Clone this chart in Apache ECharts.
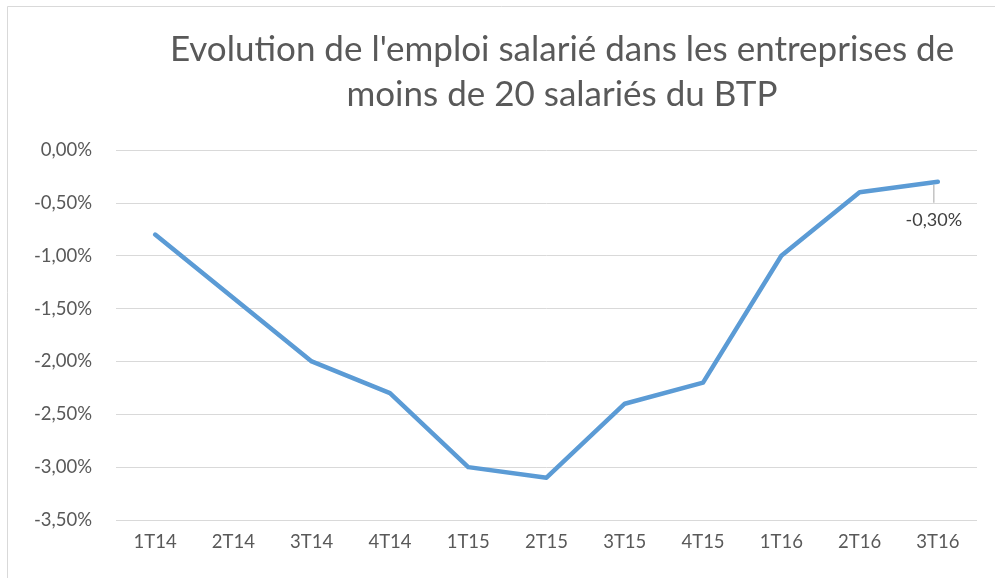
<!DOCTYPE html>
<html>
<head>
<meta charset="utf-8">
<script src="https://cdn.jsdelivr.net/npm/echarts@6/dist/echarts.min.js"></script>
<style>
  html, body { margin: 0; padding: 0; background: #fff; }
  #chart { width: 995px; height: 578px; }
</style>
</head>
<body>
<div id="chart"></div>
<script>
var fontFamily = 'Lato, "Open Sans", sans-serif';

var quarters = ['1T14', '2T14', '3T14', '4T14', '1T15', '2T15', '3T15', '4T15', '1T16', '2T16', '3T16'];
var emploi = [-0.8, -1.4, -2.0, -2.3, -3.0, -3.1, -2.4, -2.2, -1.0, -0.4, -0.3];
var titleLines = ["Evolution de l'emploi salarié dans les entreprises de", 'moins de 20 salariés du BTP'];

function pct(v) {
    return v.toFixed(2).replace('.', ',') + '%';
}

var chart = echarts.init(document.getElementById('chart'));

// only the last point carries a data label, with a short grey leader above it
var lastIndex = emploi.length - 1;
var seriesData = emploi.map(function (v, i) {
    if (i !== lastIndex) return v;
    return {
        value: v,
        label: {
            show: true,
            position: 'bottom',
            distance: 3,
            offset: [-4, 0],
            align: 'center',
            formatter: function (p) { return '{bar|}\n{txt|' + pct(p.value) + '}'; },
            rich: {
                bar: { width: 1, height: 18, backgroundColor: '#a6a6a6', align: 'center' },
                txt: { color: '#404040', fontSize: 18, fontFamily: fontFamily, lineHeight: 34, align: 'center' }
            }
        }
    };
});

var option = {
    backgroundColor: '#fff',
    animation: false,
    title: {
        text: titleLines.join('\n'),
        left: 557,
        top: 22,
        textAlign: 'center',
        textStyle: {
            color: '#595959',
            fontSize: 35,
            fontWeight: 'normal',
            fontFamily: fontFamily,
            lineHeight: 45
        }
    },
    graphic: [{
        type: 'rect',
        shape: { x: 7.5, y: 6.5, width: 1000, height: 600 },
        style: { fill: 'none', stroke: '#d9d9d9', lineWidth: 1 },
        silent: true
    }],
    grid: {
        left: 116,
        right: 18,
        top: 150,
        bottom: 58
    },
    xAxis: {
        type: 'category',
        data: quarters,
        boundaryGap: true,
        axisLine: { show: false },
        axisTick: { show: false },
        axisLabel: {
            color: '#595959',
            fontSize: 18.5,
            fontFamily: fontFamily,
            margin: 13
        }
    },
    yAxis: {
        type: 'value',
        min: -3.5,
        max: 0,
        interval: 0.5,
        axisLine: { show: false },
        axisTick: { show: false },
        axisLabel: {
            color: '#595959',
            fontSize: 18.5,
            fontFamily: fontFamily,
            margin: 24,
            formatter: function (v) { return pct(v); }
        },
        splitLine: { lineStyle: { color: '#d9d9d9', width: 1 } }
    },
    series: [{
        type: 'line',
        data: seriesData,
        symbol: 'circle',
        symbolSize: 0,
        showSymbol: true,
        lineStyle: { color: '#5b9bd5', width: 4.5, cap: 'round', join: 'round' },
        itemStyle: { color: '#5b9bd5' }
    }]
};

chart.setOption(option);
</script>
</body>
</html>
